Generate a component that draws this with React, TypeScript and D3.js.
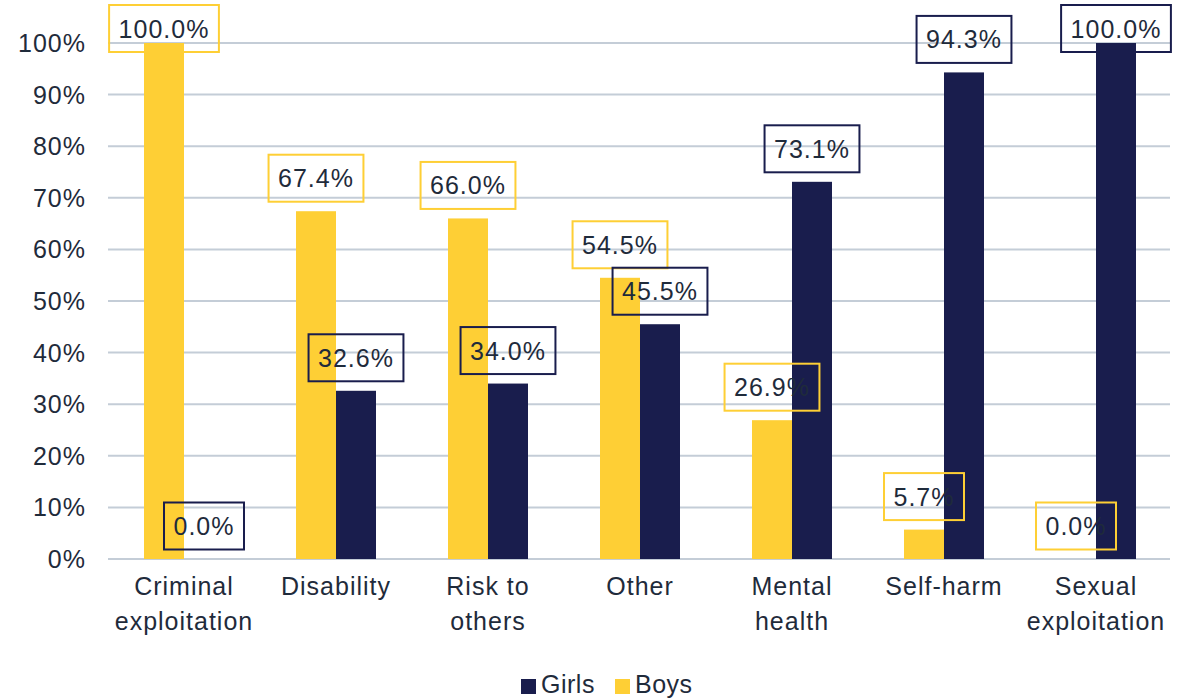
import React, { useEffect, useRef } from "react";
import * as d3 from "d3";

const categories = [
  ["Criminal", "exploitation"],
  ["Disability"],
  ["Risk to", "others"],
  ["Other"],
  ["Mental", "health"],
  ["Self-harm"],
  ["Sexual", "exploitation"],
];
const boys = [100.0, 67.4, 66.0, 54.5, 26.9, 5.7, 0.0];
const girls = [0.0, 32.6, 34.0, 45.5, 73.1, 94.3, 100.0];
const yTicks = [0, 10, 20, 30, 40, 50, 60, 70, 80, 90, 100];
const legendItems = ["Girls", "Boys"];

const YELLOW = "#fecf35";
const NAVY = "#191d4d";
const TEXT = "#1f2b3b";
const GRID = "#c4cdd7";
const FONT = "'Liberation Sans', Arial, sans-serif";

export default function App() {
  const ref = useRef<SVGSVGElement>(null);

  useEffect(() => {
    document.body.style.margin = "0";
    const svg = d3.select(ref.current);
    svg.selectAll("*").remove();

    const width = 1183, height = 699;
    const left = 108, right = 1172, top = 43, bottom = 559;

    const x = d3.scaleBand<number>()
      .domain(d3.range(categories.length))
      .range([left, right])
      .paddingInner(72 / 152)
      .paddingOuter(36 / 152);
    const sub = d3.scaleBand<string>().domain(["boys", "girls"]).range([0, x.bandwidth()]);
    const y = d3.scaleLinear().domain([0, 100]).range([bottom, top]);

    svg.attr("width", width).attr("height", height);
    const g = svg.append("g").style("font-family", FONT);

    // gridlines
    g.selectAll(".grid").data(yTicks).enter().append("line")
      .attr("x1", left).attr("x2", 1170)
      .attr("y1", d => y(d)).attr("y2", d => y(d))
      .attr("stroke", GRID).attr("stroke-width", 2);

    // y labels
    g.selectAll(".ytick").data(yTicks).enter().append("text")
      .attr("x", 86).attr("y", d => y(d)).attr("dy", "0.36em")
      .attr("text-anchor", "end")
      .attr("font-size", 25).attr("letter-spacing", 1).attr("fill", TEXT)
      .text(d => d + "%");

    const series = [
      { key: "boys", values: boys, color: YELLOW },
      { key: "girls", values: girls, color: NAVY },
    ];

    series.forEach(s => {
      g.selectAll(".bar-" + s.key).data(s.values).enter().append("rect")
        .attr("x", (d, i) => (x(i) as number) + (sub(s.key) as number))
        .attr("y", d => y(d))
        .attr("width", sub.bandwidth())
        .attr("height", d => bottom - y(d))
        .attr("fill", s.color);
    });

    // data labels
    series.forEach(s => {
      s.values.forEach((v, i) => {
        const cx = (x(i) as number) + (sub(s.key) as number) + sub.bandwidth() / 2;
        let cy = y(v) - 33;
        if (cy - 23.5 < 5) cy = 28.5;
        const lg = g.append("g");
        const t = lg.append("text")
          .attr("x", cx).attr("y", cy).attr("dy", "0.36em")
          .attr("text-anchor", "middle")
          .attr("font-size", 25).attr("letter-spacing", 1).attr("fill", TEXT)
          .text(v.toFixed(1) + "%");
        const w = (t.node() as SVGTextElement).getComputedTextLength() + 19;
        lg.insert("rect", "text")
          .attr("x", cx - w / 2).attr("y", cy - 23.5)
          .attr("width", w).attr("height", 47)
          .attr("fill", "none")
          .attr("stroke", s.color).attr("stroke-width", 2);
      });
    });

    // x labels
    categories.forEach((lines, i) => {
      const cx = (x(i) as number) + x.bandwidth() / 2;
      const t = g.append("text")
        .attr("text-anchor", "middle")
        .attr("font-size", 25).attr("letter-spacing", 1).attr("fill", TEXT);
      lines.forEach((l, j) => {
        t.append("tspan").attr("x", cx).attr("y", 595 + j * 35).text(l);
      });
    });

    // legend
    const lx = [521, 615];
    legendItems.forEach((name, i) => {
      g.append("rect")
        .attr("x", lx[i]).attr("y", 679).attr("width", 15).attr("height", 15)
        .attr("fill", name === "Girls" ? NAVY : YELLOW);
      g.append("text")
        .attr("x", lx[i] + 20).attr("y", 693)
        .attr("font-size", 25).attr("letter-spacing", 0.5).attr("fill", TEXT)
        .text(name);
    });
  }, []);

  return <svg ref={ref} style={{ display: "block" }} />;
}
